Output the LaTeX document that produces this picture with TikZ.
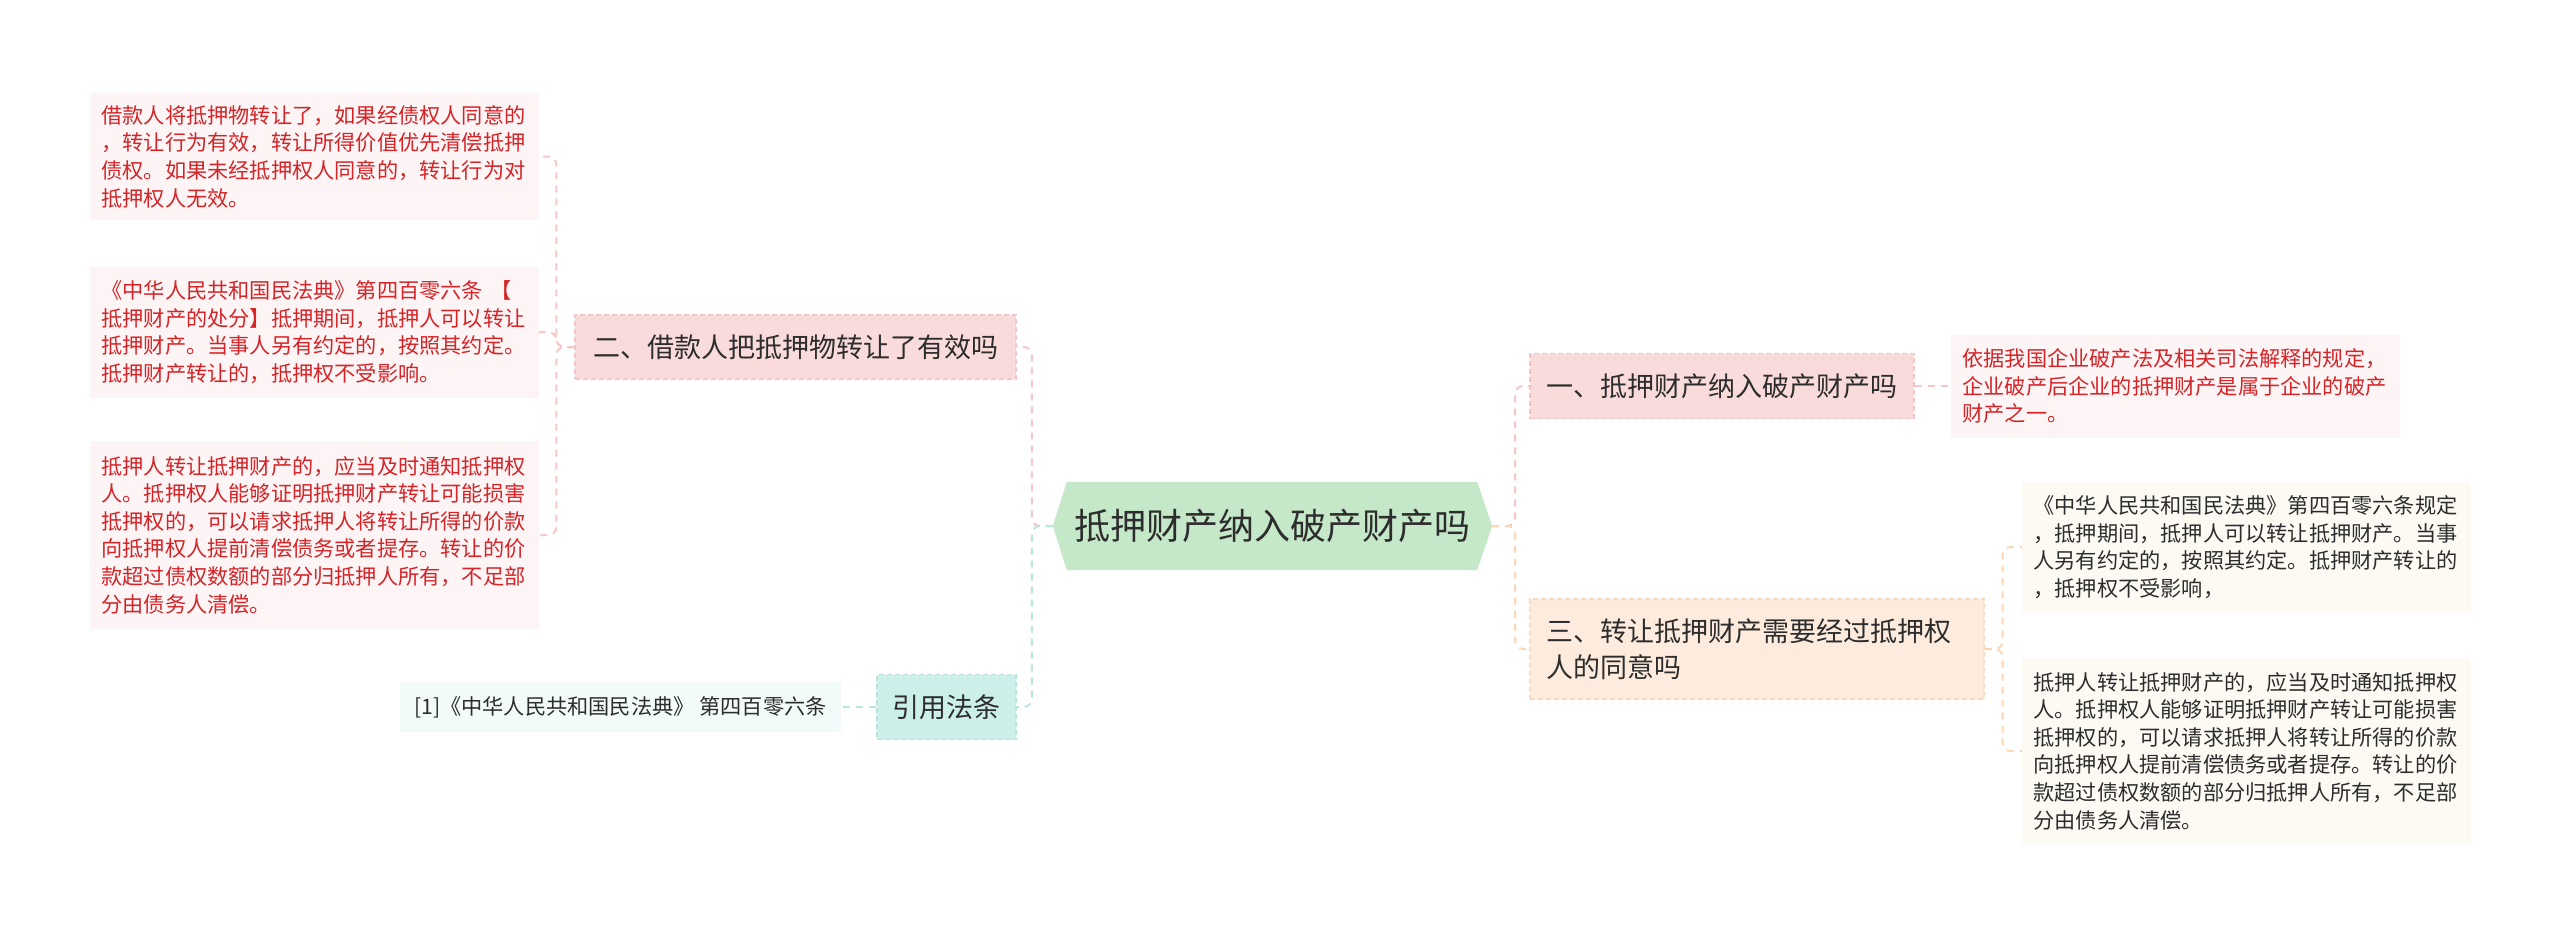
\documentclass[tikz,border=0pt]{standalone}
\usepackage{fontspec}
\newfontfamily\cjk{Noto Sans CJK SC}
\usetikzlibrary{calc,backgrounds}
\definecolor{redtxt}{RGB}{212,36,40}
\definecolor{darktxt}{RGB}{45,45,45}
\definecolor{boxpink}{RGB}{253,245,245}
\definecolor{boxcream}{RGB}{253,250,244}
\definecolor{boxcyan}{RGB}{243,250,250}
\definecolor{pinkfill}{RGB}{249,219,219}
\definecolor{pinkedge}{RGB}{242,198,198}
\definecolor{peachfill}{RGB}{253,236,221}
\definecolor{peachedge}{RGB}{248,218,192}
\definecolor{tealfill}{RGB}{204,239,233}
\definecolor{tealedge}{RGB}{184,228,220}
\definecolor{rootfill}{RGB}{197,232,201}
\definecolor{pinkline}{RGB}{245,200,200}
\definecolor{tealline}{RGB}{184,229,222}
\definecolor{peachline}{RGB}{250,215,181}
\begin{document}
\begin{tikzpicture}[x=1pt,y=-1pt,
  txtfont/.style={font=\cjk\fontsize{21.2}{27.6}\selectfont},
  lbox/.style={txtfont, fill=boxpink, text=redtxt, align=left, text width=426pt, inner xsep=11.5pt, inner ysep=0pt},
  rbox/.style={txtfont, fill=boxcream, text=darktxt, align=left, text width=426pt, inner xsep=11.5pt, inner ysep=0pt},
  branch/.style={line width=1.2pt, dash pattern=on 5pt off 3pt, font=\cjk\fontsize{27}{36}\selectfont, text=darktxt, inner sep=0pt},
  conn/.style={line width=2pt, dash pattern=on 7pt off 6pt, rounded corners=8pt}
]
\useasboundingbox (0,0) rectangle (2560,935);

% root
\node[font=\cjk\fontsize{36}{40}\selectfont, text=darktxt, minimum width=439, minimum height=88, inner sep=0pt] (root) at (1272.5,526) {抵押财产纳入破产财产吗};

% left branch
\node[branch, fill=pinkfill, draw=pinkedge, minimum width=441, minimum height=64] (n2) at (795.5,347) {二、借款人把抵押物转让了有效吗};
\node[lbox, minimum height=127] (b1) at (314.5,156.5) {借款人将抵押物转让了，如果经债权人同意的\\，转让行为有效，转让所得价值优先清偿抵押\\债权。如果未经抵押权人同意的，转让行为对\\抵押权人无效。};
\node[lbox, minimum height=131] (b2) at (314.5,332) {《中华人民共和国民法典》第四百零六条 【\\抵押财产的处分】抵押期间，抵押人可以转让\\抵押财产。当事人另有约定的，按照其约定。\\抵押财产转让的，抵押权不受影响。};
\node[lbox, minimum height=188] (b3) at (314.5,535) {抵押人转让抵押财产的，应当及时通知抵押权\\人。抵押权人能够证明抵押财产转让可能损害\\抵押权的，可以请求抵押人将转让所得的价款\\向抵押权人提前清偿债务或者提存。转让的价\\款超过债权数额的部分归抵押人所有，不足部\\分由债务人清偿。};

\node[branch, fill=tealfill, draw=tealedge, minimum width=139, minimum height=65] (n4) at (946.5,707) {引用法条};
\node[font=\cjk\fontsize{21.2}{24}\selectfont, text=darktxt, fill=boxcyan, minimum width=441, minimum height=50, inner sep=0pt] (c1) at (620.5,707) {[1]《中华人民共和国民法典》 第四百零六条};

% right branch
\node[branch, fill=pinkfill, draw=pinkedge, minimum width=384, minimum height=65] (n1) at (1722,386) {一、抵押财产纳入破产财产吗};
\node[lbox, minimum height=103] (r1) at (2175.5,386) {依据我国企业破产法及相关司法解释的规定，\\企业破产后企业的抵押财产是属于企业的破产\\财产之一。};

\node[branch, fill=peachfill, draw=peachedge, align=left, text width=422pt, inner xsep=16pt, minimum height=100] (n3) at (1757,649) {三、转让抵押财产需要经过抵押权\\人的同意吗};
\node[rbox, minimum height=130] (r2) at (2246.5,547) {《中华人民共和国民法典》第四百零六条规定\\，抵押期间，抵押人可以转让抵押财产。当事\\人另有约定的，按照其约定。抵押财产转让的\\，抵押权不受影响，};
\node[rbox, minimum height=186] (r3) at (2246.5,751) {抵押人转让抵押财产的，应当及时通知抵押权\\人。抵押权人能够证明抵押财产转让可能损害\\抵押权的，可以请求抵押人将转让所得的价款\\向抵押权人提前清偿债务或者提存。转让的价\\款超过债权数额的部分归抵押人所有，不足部\\分由债务人清偿。};

\begin{scope}[on background layer]
  \fill[white] (0,0) rectangle (2560,935);
  \fill[rootfill] (root.west) -- ($(root.north west)+(14,0)$) -- ($(root.north east)+(-15,0)$) -- (root.east) -- ($(root.south east)+(-15,0)$) -- ($(root.south west)+(14,0)$) -- cycle;
\end{scope}

% connectors
\draw[conn, pinkline] (root.west) -- ++(-21,0) |- (n2.east);
\draw[conn, tealline] (root.west) -- ++(-21,0) |- (n4.east);
\draw[conn, pinkline] (n2.west) -- ++(-18,0) |- (b1.east);
\draw[conn, pinkline] (n2.west) -- ++(-18,0) |- (b2.east);
\draw[conn, pinkline] (n2.west) -- ++(-18,0) |- (b3.east);
\draw[conn, tealline] (n4.west) -- (c1.east);
\draw[conn, pinkline] (root.east) -- ++(23,0) |- (n1.west);
\draw[conn, peachline] (root.east) -- ++(23,0) |- (n3.west);
\draw[conn, pinkline] (n1.east) -- (r1.west);
\draw[conn, peachline] (n3.east) -- ++(18,0) |- (r2.west);
\draw[conn, peachline] (n3.east) -- ++(18,0) |- (r3.west);
\end{tikzpicture}
\end{document}
